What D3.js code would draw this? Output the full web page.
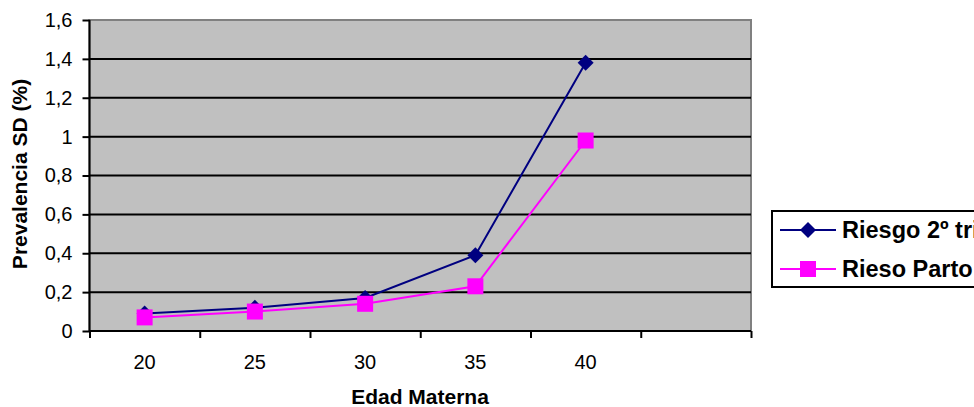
<!DOCTYPE html>
<html>
<head>
<meta charset="utf-8">
<script src="https://cdn.jsdelivr.net/npm/d3@7"></script>
<style>
  body { margin: 0; background: #fff; }
  svg { display: block; font-family: "Liberation Sans", Arial, sans-serif; }
  .axis path, .axis line { stroke: #000; stroke-width: 2; }
  .axis text { font-size: 20px; fill: #000; }
  .title { font-size: 21px; font-weight: bold; }
  .legend-text { font-size: 23.5px; font-weight: bold; }
</style>
</head>
<body>
<div></div>
<script>
'use strict';

// categories and series
var edades = ["20", "25", "30", "35", "40", ""];
var riesgo2Tri = [0.09, 0.12, 0.17, 0.39, 1.38];
var riesgoParto = [0.07, 0.10, 0.14, 0.23, 0.98];
var yTicks = [0, 0.2, 0.4, 0.6, 0.8, 1, 1.2, 1.4, 1.6];
var series = [
  {name: "Riesgo 2º trimestre", values: riesgo2Tri, color: "#000080", marker: "diamond"},
  {name: "Rieso Parto", values: riesgoParto, color: "#FF00FF", marker: "square"}
];

var svgWidth = 974;
var svgHeight = 407;
var plot = {left: 89.5, right: 751, top: 20, bottom: 331};

var xScale = d3.scaleBand()
    .domain(edades)
    .range([plot.left, plot.right]);

var xEdges = d3.scaleLinear()
    .domain([0, edades.length])
    .range([plot.left, plot.right]);

var yScale = d3.scaleLinear()
    .domain([0, 1.6])
    .range([plot.bottom, plot.top]);

var svg = d3.select("body").select("div")
  .append("svg")
    .attr("width", svgWidth)
    .attr("height", svgHeight);

// plot area
svg.append("rect")
    .attr("x", plot.left)
    .attr("y", plot.top)
    .attr("width", plot.right - plot.left)
    .attr("height", plot.bottom - plot.top)
    .attr("fill", "#C0C0C0")
    .attr("stroke", "#808080")
    .attr("stroke-width", 2);

// gridlines
svg.append("g")
  .selectAll("line")
  .data(yTicks.slice(1, -1))
  .enter().append("line")
    .attr("x1", plot.left)
    .attr("x2", plot.right)
    .attr("y1", function(d) { return yScale(d); })
    .attr("y2", function(d) { return yScale(d); })
    .attr("stroke", "#000")
    .attr("stroke-width", 2);

// y axis
var yAxis = svg.append("g")
    .attr("class", "axis")
    .attr("transform", "translate(" + plot.left + ",0)")
    .call(d3.axisLeft(yScale)
      .tickValues(yTicks)
      .tickSize(7)
      .tickPadding(10)
      .tickFormat(function(d) { return String(d).replace(".", ","); }));
yAxis.select(".domain").attr("d", "M0," + plot.top + "V" + plot.bottom);

// x axis ticks at category edges
var xTickAxis = svg.append("g")
    .attr("class", "axis")
    .attr("transform", "translate(0," + plot.bottom + ")")
    .call(d3.axisBottom(xEdges)
      .tickValues(d3.range(edades.length + 1))
      .tickSize(7)
      .tickFormat(""));
xTickAxis.select(".domain").attr("d", "M" + plot.left + ",0H" + plot.right);

// x labels
var xLabels = svg.append("g")
    .attr("class", "axis")
    .attr("transform", "translate(0," + plot.bottom + ")")
    .call(d3.axisBottom(xScale).tickSize(0).tickPadding(24));
xLabels.select(".domain").remove();

// axis titles
svg.append("text")
    .attr("class", "title")
    .attr("x", 420)
    .attr("y", 404)
    .attr("text-anchor", "middle")
    .text("Edad Materna");

svg.append("text")
    .attr("class", "title")
    .attr("transform", "translate(27,174) rotate(-90)")
    .attr("text-anchor", "middle")
    .text("Prevalencia SD (%)");

// lines
var line = d3.line()
    .x(function(d, i) { return xScale(edades[i]) + xScale.bandwidth() / 2; })
    .y(function(d) { return yScale(d); });

function drawMarker(g, type, color) {
  if (type === "diamond") {
    g.append("path")
        .attr("d", "M0,-8L8,0L0,8L-8,0Z")
        .attr("fill", color);
  } else {
    g.append("rect")
        .attr("x", -8).attr("y", -8)
        .attr("width", 16).attr("height", 16)
        .attr("fill", color);
  }
}

series.forEach(function(s) {
  svg.append("path")
      .datum(s.values)
      .attr("fill", "none")
      .attr("stroke", s.color)
      .attr("stroke-width", 2)
      .attr("d", line);

  svg.append("g")
    .selectAll("g")
    .data(s.values)
    .enter().append("g")
      .attr("transform", function(d, i) {
        return "translate(" + (xScale(edades[i]) + xScale.bandwidth() / 2) + "," + yScale(d) + ")";
      })
      .each(function() { drawMarker(d3.select(this), s.marker, s.color); });
});

// legend (runs past the right edge, as in the original)
var legend = svg.append("g");
legend.append("rect")
    .attr("x", 772)
    .attr("y", 211)
    .attr("width", 300)
    .attr("height", 76)
    .attr("fill", "#fff")
    .attr("stroke", "#000")
    .attr("stroke-width", 2);

var items = legend.selectAll("g.item")
  .data(series)
  .enter().append("g")
    .attr("class", "item")
    .attr("transform", function(d, i) { return "translate(0," + (230 + i * 39) + ")"; });

items.append("line")
    .attr("x1", 780)
    .attr("x2", 836)
    .attr("stroke", function(d) { return d.color; })
    .attr("stroke-width", 2);

items.append("g")
    .attr("transform", "translate(808,0)")
    .each(function(d) { drawMarker(d3.select(this), d.marker, d.color); });

items.append("text")
    .attr("class", "legend-text")
    .attr("x", 842)
    .attr("dy", "0.36em")
    .text(function(d) { return d.name; });
</script>
</body>
</html>
